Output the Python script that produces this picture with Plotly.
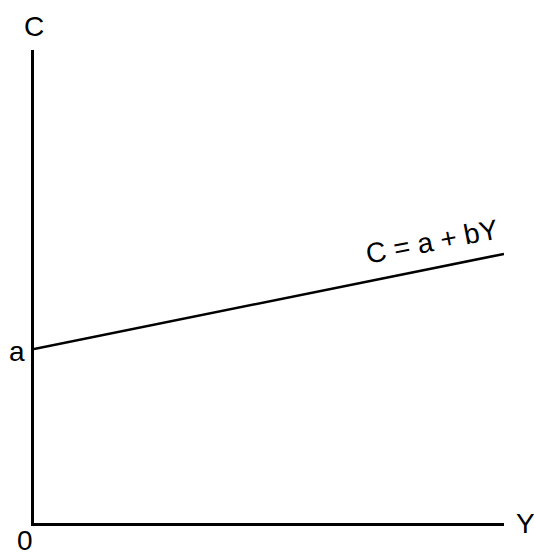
import plotly.graph_objects as go

# Consumption function C = a + bY (schematic, normalized units)
line_x = [0.0, 1.0]
line_y = [0.368, 0.569]
intercept_label = "a"
equation_label = "C = a + bY"
x_axis_label = "Y"
y_axis_label = "C"
origin_label = "0"

FONT = "Liberation Sans, Arial, sans-serif"

fig = go.Figure()
fig.add_trace(go.Scatter(x=line_x, y=line_y, mode="lines",
                         line=dict(color="black", width=2.5),
                         hoverinfo="skip", showlegend=False))

eq_x = 0.847
eq_y = line_y[0] + eq_x * (line_y[1] - line_y[0])

fig.update_layout(
    width=534, height=556,
    margin=dict(l=34, r=30, t=50, b=33),
    paper_bgcolor="white", plot_bgcolor="white",
    font=dict(family=FONT, size=28, color="black"),
    xaxis=dict(range=[0, 1], showgrid=False, zeroline=False, showticklabels=False,
               ticks="", showline=True, linecolor="black", linewidth=2.5, mirror=False),
    yaxis=dict(range=[0, 1], showgrid=False, zeroline=False, showticklabels=False,
               ticks="", showline=True, linecolor="black", linewidth=2.5, mirror=False),
    annotations=[
        dict(x=0, y=1, xref="x", yref="paper", text=y_axis_label, showarrow=False,
             yanchor="bottom", yshift=6, xanchor="center"),
        dict(x=0, y=0, xref="x", yref="paper", text=origin_label, showarrow=False,
             yanchor="top", xanchor="center", xshift=-9, yshift=-1, borderpad=0),
        dict(x=1, y=0, xref="x", yref="paper", text=x_axis_label, showarrow=False,
             xanchor="left", yanchor="middle", xshift=10),
        dict(x=0, y=line_y[0], xref="x", yref="y", text=intercept_label, showarrow=False,
             xanchor="right", yanchor="middle", xshift=-7, yshift=-3),
        dict(x=eq_x, y=eq_y, xref="x", yref="y",
             text=equation_label, showarrow=False, textangle=-11,
             xanchor="center", yanchor="middle", yshift=27),
    ],
)

fig.write_html("out.html", config={"displayModeBar": False},
               post_script="document.body.style.margin='0';document.body.style.overflow='hidden';")
